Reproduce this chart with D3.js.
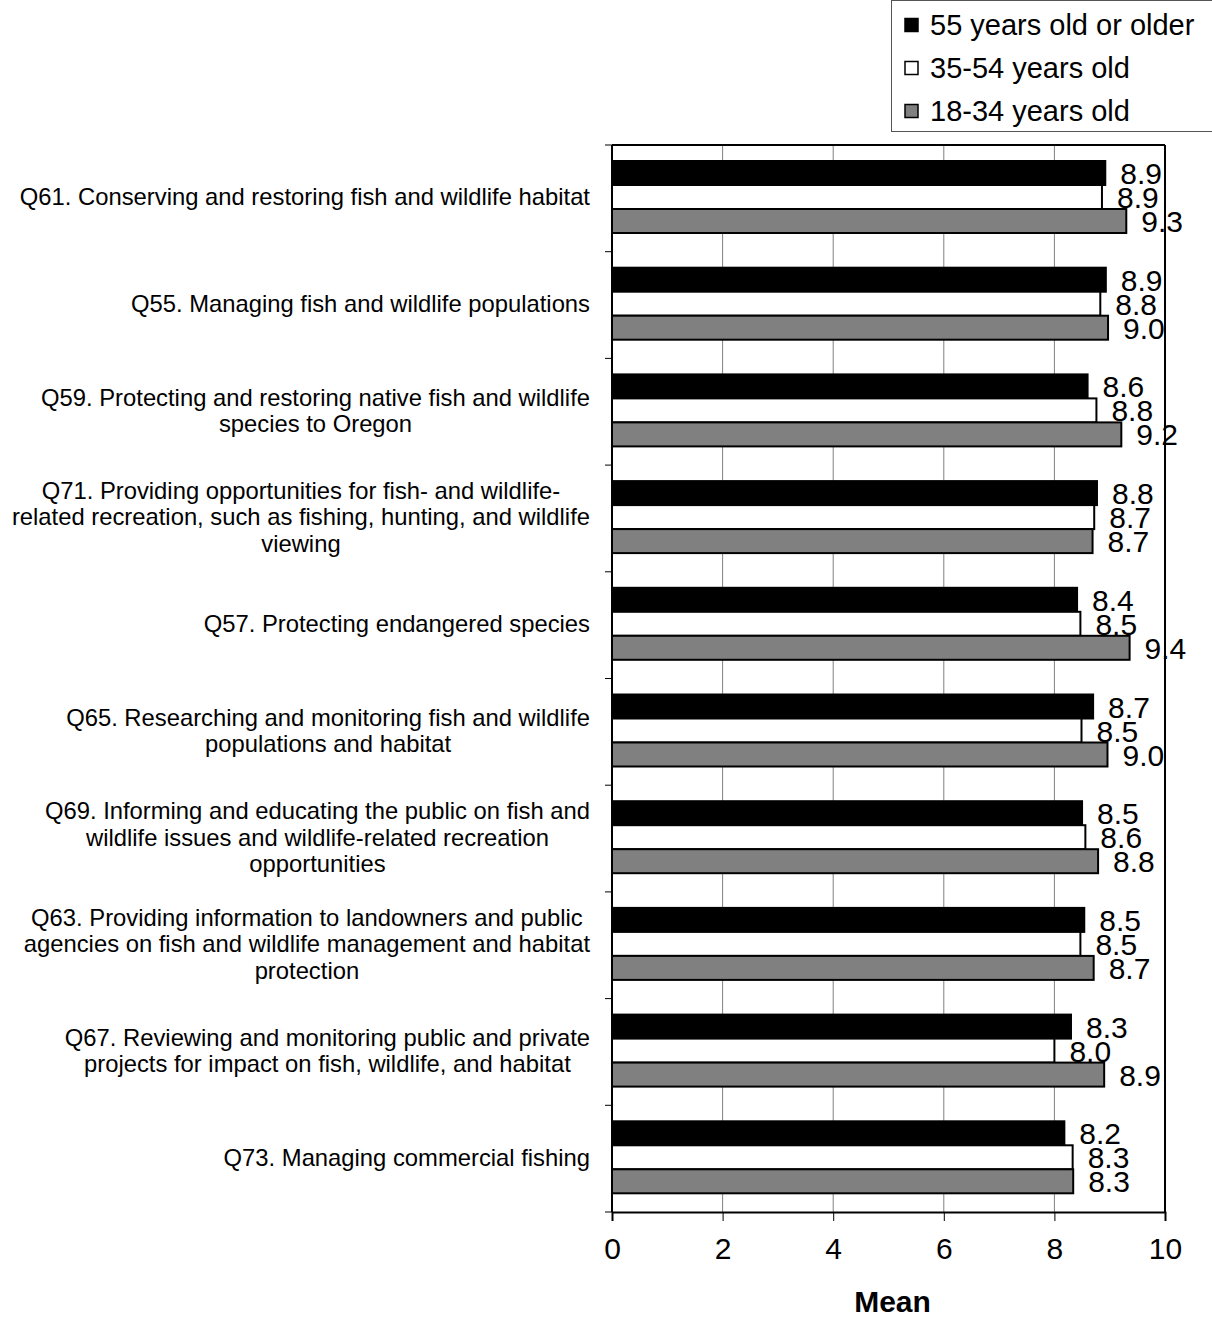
<!DOCTYPE html>
<html>
<head>
<meta charset="utf-8">
<script src="https://cdn.jsdelivr.net/npm/d3@7"></script>
<style>
  html, body { margin: 0; padding: 0; background: #fff; }
  svg { display: block; font-family: "Liberation Sans", Arial, sans-serif; }
</style>
</head>
<body>
<svg id="chart" width="1212" height="1319"></svg>
<script>
// ---- data ----
const categories = [
  ["Q61. Conserving and restoring fish and wildlife habitat"],
  ["Q55. Managing fish and wildlife populations"],
  ["Q59. Protecting and restoring native fish and wildlife", "species to Oregon"],
  ["Q71. Providing opportunities for fish- and wildlife-", "related recreation, such as fishing, hunting, and wildlife", "viewing"],
  ["Q57. Protecting endangered species"],
  ["Q65. Researching and monitoring fish and wildlife", "populations and habitat"],
  ["Q69. Informing and educating the public on fish and", "wildlife issues and wildlife-related recreation", "opportunities"],
  ["Q63. Providing information to landowners and public", "agencies on fish and wildlife management and habitat", "protection"],
  ["Q67. Reviewing and monitoring public and private", "projects for impact on fish, wildlife, and habitat"],
  ["Q73. Managing commercial fishing"]
];
const seriesNames = ["55 years old or older", "35-54 years old", "18-34 years old"];
const values55plus = [8.92, 8.93, 8.60, 8.77, 8.41, 8.70, 8.50, 8.54, 8.30, 8.18];
const values35to54 = [8.86, 8.83, 8.76, 8.72, 8.47, 8.49, 8.56, 8.47, 8.00, 8.33];
const values18to34 = [9.30, 8.97, 9.21, 8.69, 9.36, 8.96, 8.79, 8.71, 8.90, 8.34];
const valueLabels55plus = ["8.9", "8.9", "8.6", "8.8", "8.4", "8.7", "8.5", "8.5", "8.3", "8.2"];
const valueLabels35to54 = ["8.9", "8.8", "8.8", "8.7", "8.5", "8.5", "8.6", "8.5", "8.0", "8.3"];
const valueLabels18to34 = ["9.3", "9.0", "9.2", "8.7", "9.4", "9.0", "8.8", "8.7", "8.9", "8.3"];
const xTicks = [0, 2, 4, 6, 8, 10];
const xTitle = "Mean";

(function () {
// ---- layout ----
const svg = d3.select("#chart");
const pLeft = 612, pRight = 1165, pTop = 145, pBottom = 1212;
const FONT = '"Liberation Sans", Arial, sans-serif';
const series = [
  { name: seriesNames[0], vals: values55plus, labs: valueLabels55plus, fill: "#000000" },
  { name: seriesNames[1], vals: values35to54, labs: valueLabels35to54, fill: "#ffffff" },
  { name: seriesNames[2], vals: values18to34, labs: valueLabels18to34, fill: "#808080" }
];

const x = d3.scaleLinear().domain([0, 10]).range([pLeft, pRight]);
const y = d3.scaleBand().domain(d3.range(categories.length)).range([pTop, pBottom]).padding(0);
const barH = 24, groupOffset = 16;

// gridlines
svg.append("g").selectAll("line").data(xTicks.filter(t => t > 0 && t < 10)).join("line")
  .attr("x1", d => x(d)).attr("x2", d => x(d))
  .attr("y1", pTop).attr("y2", pBottom)
  .attr("stroke", "#808080").attr("stroke-width", 1);

// bars
series.forEach((s, si) => {
  svg.append("g").selectAll("rect").data(s.vals).join("rect")
    .attr("x", x(0))
    .attr("y", (d, i) => y(i) + groupOffset + si * barH)
    .attr("width", d => x(d) - x(0))
    .attr("height", barH)
    .attr("fill", s.fill)
    .attr("stroke", "#000").attr("stroke-width", 2);
});

// value labels
series.forEach((s, si) => {
  svg.append("g").selectAll("text").data(s.vals).join("text")
    .attr("x", d => x(d) + 15)
    .attr("y", (d, i) => y(i) + groupOffset + (si + 1) * barH - 1)
    .attr("font-family", FONT).attr("font-size", 30)
    .attr("fill", "#000")
    .text((d, i) => s.labs[i]);
});

// plot border (top, right)
svg.append("line").attr("x1", pLeft).attr("x2", pRight).attr("y1", pTop).attr("y2", pTop)
  .attr("stroke", "#000").attr("stroke-width", 2);
svg.append("line").attr("x1", pRight).attr("x2", pRight).attr("y1", pTop).attr("y2", pBottom)
  .attr("stroke", "#000").attr("stroke-width", 2);

// x axis
const xAxis = d3.axisBottom(x).tickValues(xTicks).tickSize(9).tickPadding(17).tickFormat(d3.format("d"));
const gx = svg.append("g").attr("transform", `translate(0,${pBottom})`).call(xAxis);
gx.select(".domain").attr("stroke", "#000").attr("stroke-width", 2);
gx.selectAll(".tick line").attr("stroke", "#000").attr("stroke-width", 1);
gx.selectAll(".tick text").attr("font-family", FONT).attr("font-size", 30).attr("fill", "#000");

// y axis (ticks at band boundaries)
const boundaries = d3.range(categories.length + 1).map(i => pTop + i * y.bandwidth());
svg.append("line").attr("x1", pLeft).attr("x2", pLeft).attr("y1", pTop).attr("y2", pBottom)
  .attr("stroke", "#000").attr("stroke-width", 2);
svg.append("g").selectAll("line").data(boundaries).join("line")
  .attr("x1", pLeft - 7).attr("x2", pLeft).attr("y1", d => d).attr("y2", d => d)
  .attr("stroke", "#000").attr("stroke-width", 1);

// category labels (centered blocks, right-aligned at 590)
const lineH = 26.5, labelRight = 590;
categories.forEach((lines, i) => {
  const cy = y(i) + y.bandwidth() / 2;
  const g = svg.append("g");
  const texts = lines.map((ln, k) => g.append("text")
    .attr("font-family", FONT).attr("font-size", 23.8).attr("fill", "#000")
    .attr("text-anchor", "middle")
    .attr("y", cy + (k - (lines.length - 1) / 2) * lineH + 7)
    .text(ln));
  const maxW = d3.max(texts, t => t.node().getComputedTextLength());
  texts.forEach(t => t.attr("x", labelRight - maxW / 2));
});

// axis title
svg.append("text").attr("x", (pLeft + pRight) / 2 + 4).attr("y", 1312)
  .attr("text-anchor", "middle").attr("font-family", FONT)
  .attr("font-size", 30).attr("font-weight", "bold").text(xTitle);

// legend
const lg = svg.append("g");
lg.append("rect").attr("x", 891.5).attr("y", 0.5).attr("width", 330).attr("height", 131)
  .attr("fill", "#fff").attr("stroke", "#555").attr("stroke-width", 1);
series.forEach((s, si) => {
  const cy = 25 + si * 43;
  lg.append("rect").attr("x", 905).attr("y", cy - 6.5).attr("width", 13).attr("height", 13)
    .attr("fill", s.fill).attr("stroke", "#000").attr("stroke-width", 1.5);
  lg.append("text").attr("x", 930).attr("y", cy + 10)
    .attr("font-family", FONT).attr("font-size", 29).attr("fill", "#000").text(s.name);
});
})();
</script>
</body>
</html>
